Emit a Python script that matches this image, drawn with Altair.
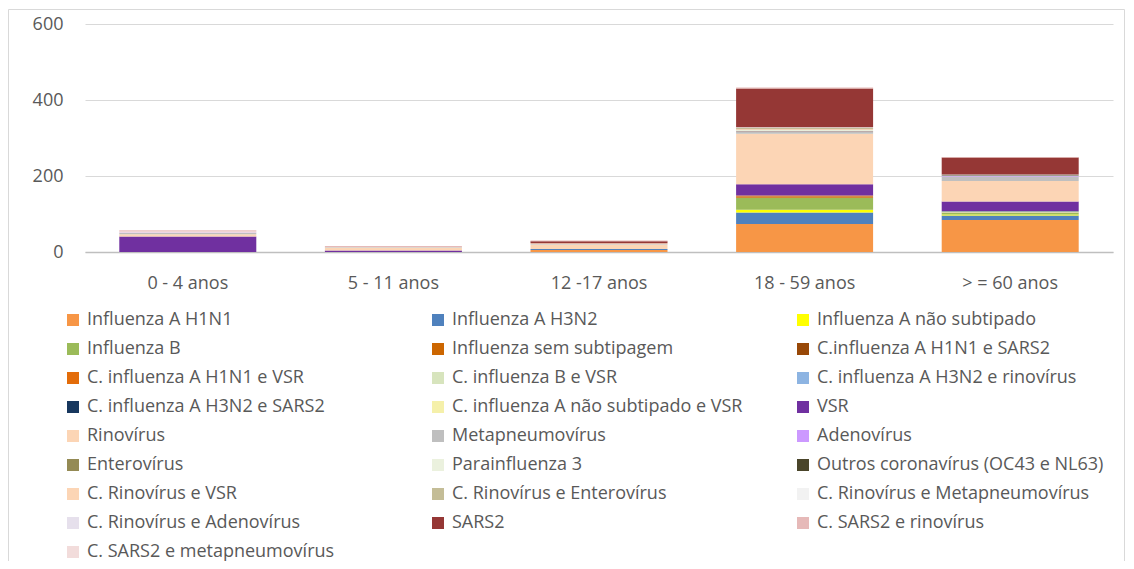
import altair as alt
import pandas as pd

categories = ["0 - 4  anos", "5 - 11 anos", "12 -17 anos", "18 - 59 anos", "> = 60 anos"]

series = [
    "Influenza A H1N1", "Influenza A H3N2", "Influenza A não subtipado",
    "Influenza B", "Influenza sem subtipagem", "C.influenza A H1N1 e SARS2",
    "C. influenza A H1N1 e VSR", "C. influenza  B e VSR", "C. influenza A H3N2 e rinovírus",
    "C. influenza A H3N2 e SARS2", "C. influenza A não subtipado e VSR", "VSR",
    "Rinovírus", "Metapneumovírus", "Adenovírus",
    "Enterovírus", "Parainfluenza 3", "Outros coronavírus (OC43 e NL63)",
    "C. Rinovírus e VSR", "C. Rinovírus e Enterovírus", "C. Rinovírus e Metapneumovírus",
    "C. Rinovírus e Adenovírus", "SARS2", "C. SARS2 e rinovírus",
    "C. SARS2 e metapneumovírus",
]

colors = [
    "#F79646", "#4F81BD", "#FFFF00",
    "#9BBB59", "#CC6600", "#984807",
    "#E36C09", "#D7E4BD", "#8DB4E2",
    "#17375E", "#F5F0AA", "#7030A0",
    "#FCD5B5", "#BFBFBF", "#CC99FF",
    "#948A54", "#EBF1DE", "#4A452A",
    "#FCD5B5", "#C4BD97", "#F2F2F2",
    "#E6E0EC", "#953735", "#E6B9B8",
    "#F2DCDB",
]

# values per series, in category order
v_0_4   = [0, 0, 0, 0, 0, 0, 0, 0, 0, 0, 0, 41, 6, 3, 1, 0, 1, 0, 1, 0, 0, 1, 0, 3, 1]
v_5_11  = [0, 0, 0, 0, 0, 0, 0, 0, 0, 0, 0, 4, 8, 1, 0, 0, 0, 0, 0, 0, 0, 0, 0, 3, 0]
v_12_17 = [5, 3, 0, 0, 0, 0, 0, 0, 0, 0, 0, 0, 12, 1, 0, 0, 0, 0, 2, 0, 0, 0, 5, 2, 0]
v_18_59 = [74, 30, 7, 32, 3, 1, 2, 0, 0, 0, 0, 29, 133, 5, 1, 2, 2, 1, 2, 3, 1, 0, 102, 3, 0]
v_60    = [84, 12, 3, 4, 1, 0, 0, 1, 1, 1, 1, 25, 54, 12, 1, 0, 1, 2, 0, 0, 1, 0, 45, 1, 0]

values = [v_0_4, v_5_11, v_12_17, v_18_59, v_60]

rows = []
for ci, cat in enumerate(categories):
    for si, s in enumerate(series):
        rows.append({"cat": cat, "serie": s, "idx": si, "valor": values[ci][si]})
df = pd.DataFrame(rows)

FONT = "Open Sans"
GRAY = "#595959"

bars = alt.Chart(df).mark_bar(size=137).encode(
    x=alt.X("cat:N", sort=categories, title=None,
            scale=alt.Scale(paddingInner=0.335, paddingOuter=0.1675),
            axis=alt.Axis(labelAngle=0, ticks=False, domainColor="#BFBFBF", domainWidth=1.5,
                          labelFont=FONT, labelFontSize=18, labelColor=GRAY, labelPadding=22)),
    y=alt.Y("valor:Q", stack="zero", title=None,
            scale=alt.Scale(domain=[0, 600], nice=False),
            axis=alt.Axis(values=[0, 200, 400, 600], ticks=False, domain=False,
                          gridColor="#D9D9D9", gridWidth=1.2,
                          labelFont=FONT, labelFontSize=18, labelColor=GRAY, labelPadding=22)),
    color=alt.Color("serie:N", sort=series,
                    scale=alt.Scale(domain=series, range=colors),
                    legend=alt.Legend(title=None, orient="none", legendX=-21, legendY=287,
                                      direction="horizontal",
                                      columns=3, columnPadding=51, rowPadding=11,
                                      gridAlign="all", symbolType="square", symbolSize=144,
                                      symbolStrokeWidth=0, labelFont=FONT, labelFontSize=18,
                                      labelColor=GRAY, labelLimit=400, labelOffset=5,
                                      padding=0)),
    order=alt.Order("idx:Q", sort="ascending"),
)

border = alt.Chart(pd.DataFrame({"a": [0]})).mark_rect(
    fill=None, stroke="#D9D9D9", strokeWidth=1
).encode(
    x=alt.value(-76.5), x2=alt.value(1039.5), y=alt.value(-14.5), y2=alt.value(600)
)

chart = alt.layer(border, bars).properties(
    width=1028, height=228,
    autosize=alt.AutoSizeParams(type="none"),
    padding={"left": 77, "top": 16, "right": 13, "bottom": 309},
).configure_view(stroke=None)

chart.save("out.html", embed_options={"renderer": "svg", "actions": False})
